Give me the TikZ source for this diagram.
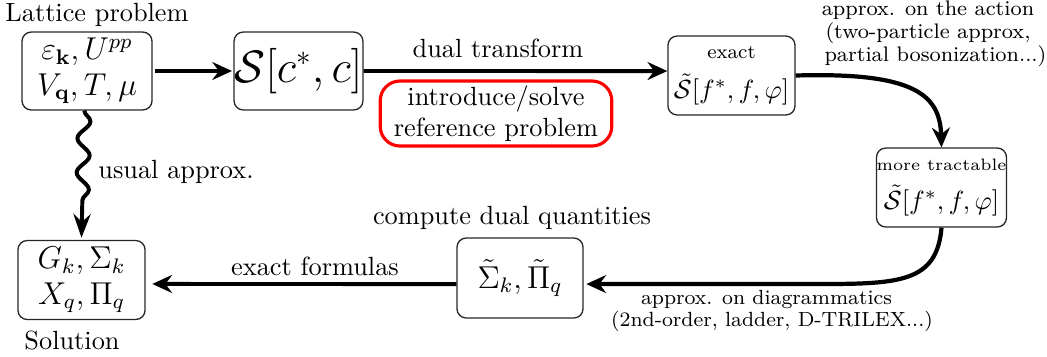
\documentclass[tikz,border=0pt]{standalone}
\usetikzlibrary{arrows.meta,decorations.pathmorphing}
\begin{document}
\begin{tikzpicture}[x=0.38pt,y=-0.38pt,
  box/.style={draw=black!85, rounded corners=3.5pt, line width=0.5pt, align=center, inner sep=0pt,
    minimum width=48.3pt, minimum height=30pt},
  arr/.style={line width=1.5pt, -{Stealth[length=7.5pt,width=6.8pt,inset=2.5pt]}},
  lbl/.style={inner sep=0pt, align=center},
]
\useasboundingbox (0,0) rectangle (1047,356);

% nodes
\node[box, font=\fontsize{12}{12.5}\selectfont, minimum width=49.4pt, minimum height=29.6pt] (lat) at (87,71)
  {$\varepsilon_{\mathbf k}, U^{pp}$\\[1pt]$V_{\mathbf q}, T, \mu$};
\node[lbl] (lattl) at (97,15) {Lattice problem};

\node[box, font=\fontsize{16}{18}\selectfont, minimum width=49pt, minimum height=29.6pt] (S) at (298.5,71) {$\mathcal{S}[c^*, c]$};

\node[box, minimum width=48.3pt, minimum height=30pt] (ex) at (731.5,75.5)
  {{\fontsize{7.5}{8}\selectfont exact}\\[3pt]{\fontsize{10}{11}\selectfont $\tilde{\mathcal{S}}[f^*, f, \varphi]$}};

\node[box, minimum width=48.3pt, minimum height=30pt] (tr) at (941.5,187.5)
  {{\fontsize{6.3}{7}\selectfont more tractable}\\[2.5pt]{\fontsize{10}{11}\selectfont $\tilde{\mathcal{S}}[f^*, f, \varphi]$}};

\node[box, font=\fontsize{12}{13}\selectfont, minimum width=47.9pt, minimum height=30.4pt] (sig) at (520,278)
  {$\tilde{\Sigma}_k, \tilde{\Pi}_q$};

\node[box, font=\fontsize{12}{12.5}\selectfont] (sol) at (81.5,280)
  {$G_k, \Sigma_k$\\[1pt]$X_q, \Pi_q$};
\node[lbl] (soltl) at (72,340) {Solution};

\node[draw=red, line width=1.2pt, rounded corners=7.5pt, align=center, inner sep=0pt,
  minimum width=88pt, minimum height=24.7pt] (ref) at (496,113.5)
  {introduce/solve\\reference problem};

% labels
\node[lbl] (ldual) at (498,48) {dual transform};
\node[lbl, font=\fontsize{8}{7}\selectfont] (lact) at (928,34)
  {approx. on the action\\(two-particle approx,\\\ \ partial bosonization...)};
\node[lbl] (lusual) at (176,172) {usual approx.};
\node[lbl] (lcomp) at (512,218) {compute dual quantities};
\node[lbl] (lexf) at (315,266) {exact formulas};
\node[lbl, font=\fontsize{7.8}{8.4}\selectfont] (ldiag) at (772,311)
  {approx. on diagrammatics\hspace*{4.2pt}\\(2nd-order, ladder, D-TRILEX...)};

% connectors
\draw[arr] ([xshift=1pt]lat.east) -- ([xshift=-0.5pt]S.west);
\draw[arr] (S.east) -- ([yshift=1.7pt]ex.west);
\draw[line width=1.6pt, -{Stealth[length=7.5pt,width=6.8pt,inset=2.5pt]}]
  (ex.east) .. controls (915,72) and (940,95) .. (tr.north);
\draw[line width=1.6pt, -{Stealth[length=7.5pt,width=6.8pt,inset=2.5pt]}]
  (tr.south) .. controls (937,282) and (900,284) .. (820,284) -- ([xshift=1pt,yshift=-2.3pt]sig.east);
\draw[arr] ([yshift=-2.3pt]sig.west) -- ([xshift=2.5pt,yshift=-1.5pt]sol.east);
\draw[line width=1.5pt, -{Stealth[length=9pt,width=6.5pt,inset=3pt]},
  decorate, decoration={snake, amplitude=2.4pt, segment length=13pt, post length=9pt}]
  ([xshift=-1pt]lat.south) -- ([yshift=0.8pt]sol.north);
\end{tikzpicture}
\end{document}
